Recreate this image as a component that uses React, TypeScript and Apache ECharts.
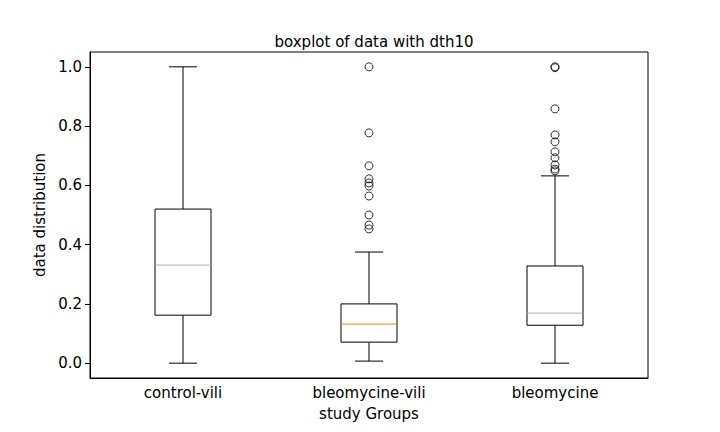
import * as echarts from "echarts";
import { useEffect, useRef } from "react";

const groups = ["control-vili", "bleomycine-vili", "bleomycine"];
// [low whisker, Q1, median, Q3, high whisker]
const boxStats = [
  [0, 0.162, 0.331, 0.52, 1.0],
  [0.007, 0.071, 0.132, 0.2, 0.375],
  [0, 0.128, 0.169, 0.328, 0.632],
];
const outliersVili = [1.0, 0.777, 0.666, 0.622, 0.608, 0.598, 0.564, 0.5, 0.466, 0.453];
const outliersBleo = [1.0, 0.997, 0.858, 0.77, 0.747, 0.713, 0.693, 0.669, 0.655, 0.649];
const medianColors = ["#b0b0b0", "#ff7f0e", "#b0b0b0"];
const yTicks = [0, 0.2, 0.4, 0.6, 0.8, 1.0];

const font = "DejaVu Sans";
const halfBox = 28;
const halfCap = 14;

export default function App() {
  const ref = useRef<HTMLDivElement | null>(null);

  useEffect(() => {
    if (!ref.current) return;
    const chart = echarts.init(ref.current, undefined, { renderer: "svg" });
    const outliers = [
      ...outliersVili.map((v) => [1, v]),
      ...outliersBleo.map((v) => [2, v]),
    ];
    chart.setOption({
      animation: false,
      textStyle: { fontFamily: font },
      title: {
        text: "boxplot of data with dth10",
        left: 369,
        textAlign: "center",
        top: 29,
        textStyle: { fontSize: 15, fontWeight: "normal", color: "#000", fontFamily: font },
      },
      grid: { left: 90, right: 72, top: 52, bottom: 54, show: true, borderColor: "#000", borderWidth: 1 },
      xAxis: {
        type: "category",
        data: groups,
        name: "study Groups",
        nameLocation: "middle",
        nameGap: 28,
        nameTextStyle: { fontSize: 15, color: "#000" },
        axisLine: { onZero: false, lineStyle: { color: "#000" } },
        axisTick: { alignWithLabel: true, length: 5, lineStyle: { color: "#000" } },
        axisLabel: { fontSize: 15, color: "#000", margin: 7 },
        splitLine: { show: false },
      },
      yAxis: {
        type: "value",
        min: -0.05,
        max: 1.05,
        name: "data distribution",
        nameLocation: "middle",
        nameGap: 42,
        nameTextStyle: { fontSize: 15, color: "#000" },
        axisLine: { show: true, lineStyle: { color: "#000" } },
        axisTick: { show: true, length: 5, customValues: yTicks, lineStyle: { color: "#000" } },
        axisLabel: { fontSize: 15, color: "#000", customValues: yTicks, formatter: (v: number) => v.toFixed(1) },
        splitLine: { show: false },
      },
      series: [
        {
          type: "custom",
          data: boxStats.map((s, i) => [i, ...s]),
          z: 3,
          renderItem: (params: any, api: any) => {
            const i = api.value(0);
            const y = [1, 2, 3, 4, 5].map((k) => api.coord([i, api.value(k)]));
            const x = y[0][0];
            const line = (x1: number, y1: number, x2: number, y2: number, stroke = "#000") => ({
              type: "line",
              shape: { x1, y1, x2, y2 },
              style: { stroke, lineWidth: 1 },
            });
            return {
              type: "group",
              children: [
                line(x, y[0][1], x, y[1][1]),
                line(x, y[3][1], x, y[4][1]),
                line(x - halfCap, y[0][1], x + halfCap, y[0][1]),
                line(x - halfCap, y[4][1], x + halfCap, y[4][1]),
                {
                  type: "rect",
                  shape: { x: x - halfBox, y: y[3][1], width: halfBox * 2, height: y[1][1] - y[3][1] },
                  style: { fill: "#fff", stroke: "#000", lineWidth: 1 },
                },
                line(x - halfBox, y[2][1], x + halfBox, y[2][1], medianColors[i]),
              ],
            };
          },
        },
        {
          type: "scatter",
          data: outliers,
          symbol: "circle",
          symbolSize: 8,
          itemStyle: { color: "transparent", borderColor: "#000", borderWidth: 1 },
          z: 4,
        },
      ],
    });
    return () => chart.dispose();
  }, []);

  return <div ref={ref} style={{ position: "absolute", left: 0, top: 0, width: 720, height: 432 }} />;
}
